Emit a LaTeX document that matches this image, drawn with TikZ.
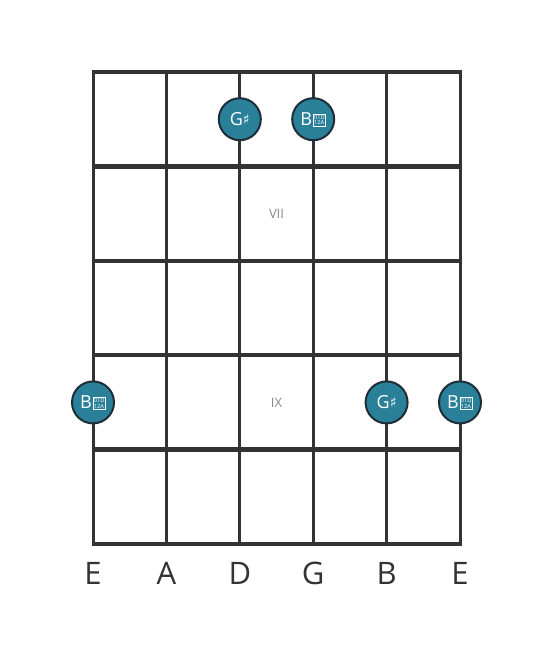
\documentclass[tikz,border=0pt]{standalone}
\usepackage{fontspec}
\setmainfont{Open Sans}
\newfontfamily\symfont{DejaVu Sans}
\definecolor{gridline}{RGB}{51,51,51}
\definecolor{notefill}{RGB}{42,128,153}
\definecolor{notering}{RGB}{30,45,55}
\definecolor{numeral}{RGB}{136,136,136}
\newcommand{\sharpsign}{{\symfont\fontsize{14}{14}\selectfont\raisebox{1pt}{♯}}}
\newcommand{\tofubox}{{\setlength{\fboxsep}{0.7pt}\setlength{\fboxrule}{0.6pt}%
  \raisebox{0.2pt}{\fbox{\fontsize{5.6}{6}\selectfont
  \vbox{\offinterlineskip\hbox{01D}\kern1.2pt\hbox{12A}}}}}}
\begin{document}
\begin{tikzpicture}[
  x=1pt, y=-1pt,
  fret/.style={draw=gridline, line width=4.5pt},
  string/.style={draw=gridline, line width=3pt},
  note/.style={circle, draw=notering, line width=2pt, fill=notefill, text=white, minimum size=42pt, inner sep=0pt, font=\fontsize{18}{18}\selectfont},
  fretnum/.style={text=numeral, font=\fontsize{13}{13}\selectfont},
  tuning/.style={text=gridline, font=\fontsize{31}{31}\selectfont}
]
\useasboundingbox (0,0) rectangle (553,656);

% strings and frets
\foreach \i/\x in {1/93,2/166.4,3/239.8,4/313.2,5/386.6,6/460} {
  \coordinate (s\i top) at (\x,72);
  \coordinate (s\i bot) at (\x,544);
  \draw[string] (s\i top) -- (s\i bot);
}
\foreach \j/\y in {0/72,1/166.4,2/260.8,3/355.2,4/449.6,5/544} {
  \draw[fret] (91.5,\y) -- (461.5,\y);
}

% fret numbers
\node[fretnum] (vii) at (276.5,214) {VII};
\node[fretnum] (ix) at (276.5,403) {IX};

% notes
\node[note] (gsharpa) at (239.8,119.2) {G\sharpsign};
\node[note] (bdbla) at (313.2,119.2) {B\hspace{0.8pt}\tofubox};
\node[note] (bdblb) at (93,402.4) {B\hspace{0.8pt}\tofubox};
\node[note] (gsharpb) at (386.6,402.4) {G\sharpsign};
\node[note] (bdblc) at (460,402.4) {B\hspace{0.8pt}\tofubox};

% open strings
\node[tuning] (t1) at (93,573) {E};
\node[tuning] (t2) at (166.4,573) {A};
\node[tuning] (t3) at (239.8,573) {D};
\node[tuning] (t4) at (313.2,573) {G};
\node[tuning] (t5) at (386.6,573) {B};
\node[tuning] (t6) at (460,573) {E};
\end{tikzpicture}
\end{document}
